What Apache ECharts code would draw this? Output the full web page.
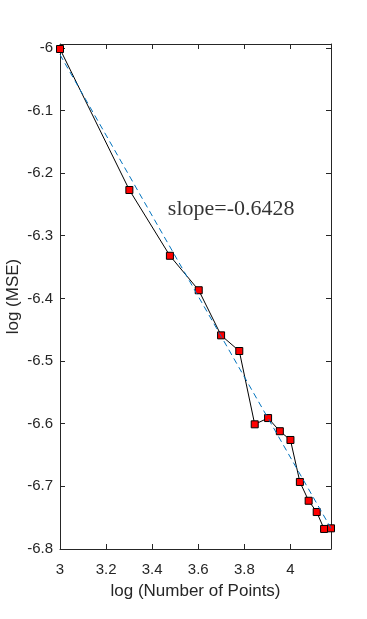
<!DOCTYPE html>
<html>
<head>
<meta charset="utf-8">
<script src="https://cdn.jsdelivr.net/npm/echarts@6/dist/echarts.min.js"></script>
<style>
  html, body { margin: 0; padding: 0; background: #fff; }
  #chart { width: 367px; height: 619px; }
</style>
</head>
<body>
<div id="chart"></div>
<script>
// log10 of number of points (1000 ... 15000)
const logPoints = [3.000, 3.301, 3.477, 3.602, 3.699, 3.778, 3.845, 3.903, 3.954, 4.000, 4.041, 4.079, 4.114, 4.146, 4.176];
// log10 of MSE
const logMse = [-6.002, -6.227, -6.332, -6.387, -6.459, -6.484, -6.601, -6.591, -6.612, -6.626, -6.693, -6.723, -6.741, -6.768, -6.767];
// fitted line end points (slope -0.6428)
const fitX = [3.000, 4.176];
const fitY = [-6.011, -6.767];
const slopeText = "slope=-0.6428";
const slopeAt = [3.468, -6.276];

const xMin = 3, xMax = 4.176, xStep = 0.2;
const yMin = -6.8, yMax = -5.994, yStep = 0.1;

const axisColor = "#262626";

// hide labels that are not on the tick step (the extra tick at the axis end)
function stepLabel(step) {
  return function (v) {
    const k = v / step;
    return Math.abs(k - Math.round(k)) < 1e-6 ? String(+v.toFixed(2)) : "";
  };
}

let chartDom = document.getElementById("chart");
let myChart = echarts.init(chartDom, null, { renderer: "canvas" });

const lineData = logPoints.map((x, i) => [x, logMse[i]]);
const fitData = fitX.map((x, i) => [x, fitY[i]]);

let baseAxis = {
  axisLine: { show: true, onZero: false, lineStyle: { color: axisColor, width: 1 } },
  axisTick: { show: true, inside: true, length: 5, lineStyle: { color: axisColor } },
  splitLine: { show: false },
  nameMoveOverlap: false,
};

let option = {
  animation: false,
  grid: { left: 60, right: 36, top: 44, bottom: 70, containLabel: false, outerBoundsMode: "none" },
  xAxis: [
    Object.assign({}, baseAxis, {
      type: "value",
      min: xMin,
      max: xMax,
      interval: xStep,
      name: "log (Number of Points)",
      nameLocation: "middle",
      nameGap: 34,
      nameTextStyle: { color: axisColor, fontFamily: "Liberation Sans", fontSize: 17 },
      axisLabel: {
        color: axisColor,
        fontFamily: "Liberation Sans",
        fontSize: 15,
        margin: 8,
        padding: [5, 0, 0, 0],
        formatter: stepLabel(xStep),
      },
    }),
    Object.assign({}, baseAxis, {
      type: "value",
      position: "top",
      min: xMin,
      max: xMax,
      interval: xStep,
      axisLabel: { show: false },
    }),
  ],
  yAxis: [
    Object.assign({}, baseAxis, {
      type: "value",
      min: yMin,
      max: yMax,
      interval: yStep,
      name: "log (MSE)",
      nameLocation: "middle",
      nameGap: 38,
      nameTextStyle: { color: axisColor, fontFamily: "Liberation Sans", fontSize: 17 },
      axisLabel: {
        color: axisColor,
        fontFamily: "Liberation Sans",
        fontSize: 15,
        margin: 7,
        formatter: stepLabel(yStep),
      },
    }),
    Object.assign({}, baseAxis, {
      type: "value",
      position: "right",
      min: yMin,
      max: yMax,
      interval: yStep,
      axisLabel: { show: false },
    }),
  ],
  series: [
    {
      name: "MSE",
      type: "line",
      data: lineData,
      symbol: "rect",
      symbolSize: 7,
      showAllSymbol: true,
      clip: false,
      lineStyle: { color: "#000", width: 1 },
      itemStyle: { color: "#ff0000", borderColor: "#000", borderWidth: 1 },
      z: 2,
    },
    {
      name: "fit",
      type: "line",
      data: fitData,
      symbol: "none",
      lineStyle: { color: "#0072BD", width: 1, type: [6, 4] },
      z: 3,
    },
    {
      name: "slope",
      type: "scatter",
      data: [slopeAt],
      symbolSize: 0,
      silent: true,
      label: {
        show: true,
        position: "right",
        distance: 0,
        formatter: slopeText,
        color: "#000",
        fontFamily: "Liberation Serif",
        fontSize: 22,
        verticalAlign: "bottom",
      },
    },
  ],
};

option && myChart.setOption(option);
</script>
</body>
</html>
